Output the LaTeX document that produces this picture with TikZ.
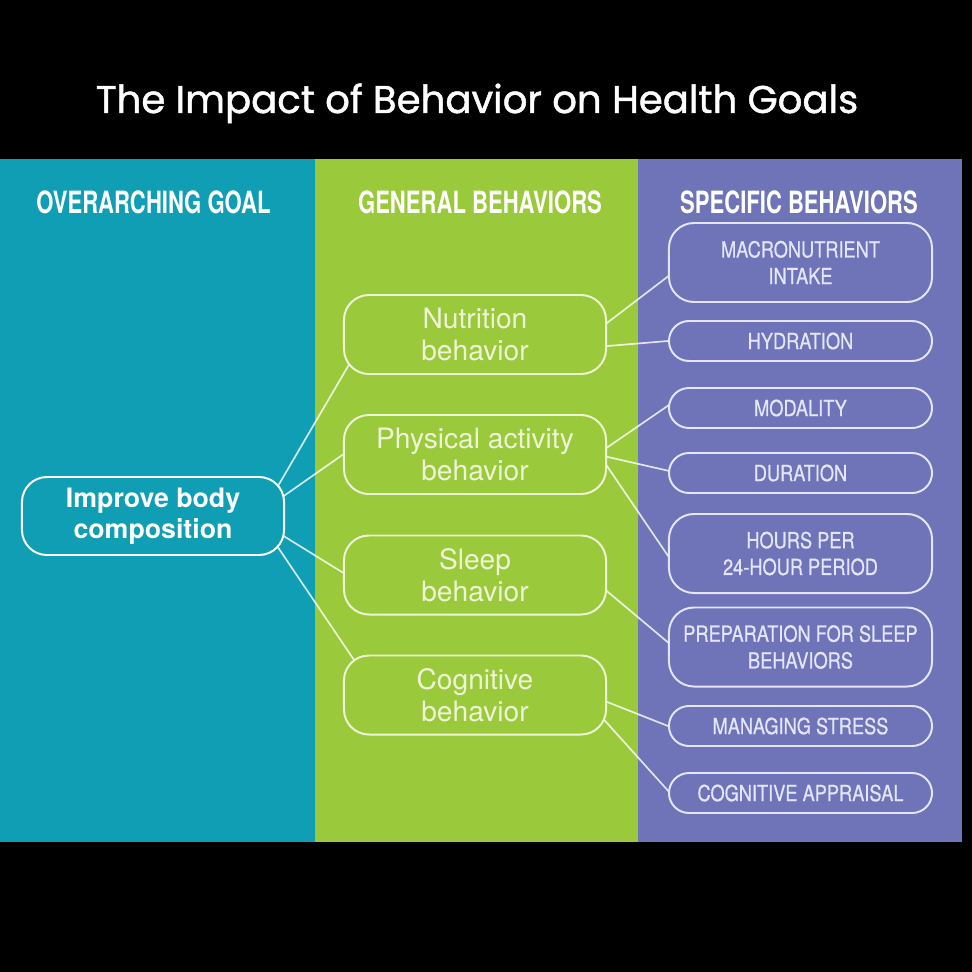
\documentclass[tikz,border=0pt]{standalone}
\usepackage{fontspec}
\setsansfont{TeX Gyre Heros}
\newfontfamily\titlefont{Poppins}[FakeBold=1.2]
\newfontfamily\headfont{TeX Gyre Heros}[FakeStretch=0.72]
\newfontfamily\capsfont{TeX Gyre Heros}[FakeStretch=0.82, FakeBold=0.6]
\usetikzlibrary{backgrounds}
\definecolor{goalteal}{RGB}{16,158,180}
\definecolor{genlime}{RGB}{155,201,60}
\definecolor{specviolet}{RGB}{110,116,183}
\definecolor{limeline}{RGB}{238,245,214}
\definecolor{violetline}{RGB}{228,229,250}

\begin{document}
\begin{tikzpicture}[x=0.025cm, y=-0.025cm,
        goalbox/.style={draw=white, fill=goalteal, rectangle, rounded corners=0.625cm, minimum width=6.55cm, minimum height=1.95cm, align=center, line width=1.4pt, text=white, font=\sffamily\bfseries\fontsize{19}{22.5}\selectfont},
        genbox/.style={draw=limeline, fill=genlime, rectangle, rounded corners=0.625cm, minimum width=6.55cm, minimum height=1.975cm, align=center, line width=1.4pt, text=limeline, font=\sffamily\fontsize{20}{23}\selectfont},
        specbox/.style={draw=violetline, fill=specviolet, rectangle, rounded corners=0.625cm, minimum width=6.575cm, minimum height=1.975cm, align=center, line width=1.4pt, text=violetline, font=\capsfont\fontsize{15.8}{19}\selectfont},
        specpill/.style={specbox, rounded corners=0.5cm, minimum height=1cm},
        header/.style={anchor=base, text=white, font=\headfont\bfseries\fontsize{21.8}{25}\selectfont},
        link/.style={draw=white, draw opacity=0.8, line width=1.2pt, shorten <=-10pt, shorten >=-10pt}
    ]
    \useasboundingbox (0,0) rectangle (972,972);

    % Panels
    \begin{scope}[on background layer]
    \fill[black] (0,0) rectangle (972,972);
    \fill[goalteal] (0,159) rectangle (315,842);
    \fill[genlime] (315,159) rectangle (638,842);
    \fill[specviolet] (638,159) rectangle (962,842);
    \end{scope}

    % Title and headers
    \node[anchor=base, text=white, font=\titlefont\fontsize{27.5}{32}\selectfont] (title) at (477,113) {The Impact of Behavior on Health Goals};
    \node[header] (hgoal) at (153.5,214) {OVERARCHING GOAL};
    \node[header] (hgen) at (480,214) {GENERAL BEHAVIORS};
    \node[header] (hspec) at (799,214) {SPECIFIC BEHAVIORS};

    % Nodes
    \node[goalbox] (goal) at (153,516) {Improve body\\composition};

    \node[genbox] (nut) at (475,334.5) {Nutrition\\behavior};
    \node[genbox] (phys) at (475,454.5) {Physical activity\\behavior};
    \node[genbox] (sleep) at (475,575) {Sleep\\behavior};
    \node[genbox] (cog) at (475,695) {Cognitive\\behavior};

    \node[specbox] (macro) at (800.5,262.5) {MACRONUTRIENT\\INTAKE};
    \node[specpill] (hyd) at (800.5,341) {HYDRATION};
    \node[specpill] (mod) at (800.5,408) {MODALITY};
    \node[specpill] (dur) at (800.5,473) {DURATION};
    \node[specbox] (hours) at (800.5,553.5) {HOURS PER\\24-HOUR PERIOD};
    \node[specbox] (prep) at (800.5,647) {PREPARATION FOR SLEEP\\BEHAVIORS};
    \node[specpill] (stress) at (800.5,726) {MANAGING STRESS};
    \node[specpill] (appr) at (800.5,793) {COGNITIVE APPRAISAL};

    % Links (drawn behind the filled nodes)
    \begin{scope}[on background layer]
    \draw[link] (goal.17) -- (nut.197.5);
    \draw[link] (goal.9) -- (phys.180);
    \draw[link] (goal.-9) -- (sleep.179);
    \draw[link] (goal.-17) -- (cog.162.5);

    \draw[link] (nut.5) -- (macro.186);
    \draw[link] (nut.-5) -- (hyd.180);
    \draw[link] (phys.3) -- (mod.179);
    \draw[link] (phys.-1) -- (dur.179);
    \draw[link] (phys.-5) -- (hours.181);
    \draw[link] (sleep.-7) -- (prep.178);
    \draw[link] (cog.-3) -- (stress.180);
    \draw[link] (cog.-12) -- (appr.179);
    \end{scope}
\end{tikzpicture}
\end{document}
